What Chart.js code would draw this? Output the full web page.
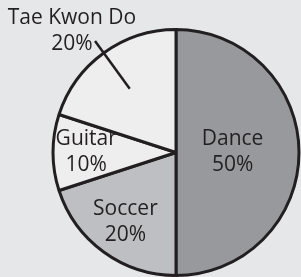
<!DOCTYPE html>
<html lang="en">

<head>
    <meta charset="UTF-8">
    <title>Activities pie chart</title>
    <script src="https://cdn.jsdelivr.net/npm/chart.js"></script>
    <style>
        html, body { margin: 0; padding: 0; background: #e6e7e9; }
        #wrap { width: 301px; height: 277px; }
    </style>
</head>

<body>
    <div id="wrap">
        <canvas id="myPieChart"></canvas>
    </div>

    <script>
        // data
        var categories = ['Dance', 'Soccer', 'Guitar', 'Tae Kwon Do'];
        var percents = [50, 20, 10, 20];
        var sliceColors = ['#98999d', '#bebfc3', '#eeeeef', '#eeeeef'];

        // where each label sits, as a fraction of the radius (TKD goes outside with a leader line)
        var labelRadius = [0.46, 0.70, 0.73, 1.26];
        var labelShiftX = [0, 0, 0, -13];
        var labelShiftY = [0, 0, 0, 4];
        var leaderFrom = [null, null, null, 0.64];
        var leaderTo = [null, null, null, 1.12];

        var ink = '#231f20';

        // draws the two-line labels and the leader line
        var sliceLabels = {
            id: 'sliceLabels',
            afterDatasetsDraw: function (chart) {
                var ctx = chart.ctx;
                var meta = chart.getDatasetMeta(0);
                ctx.save();
                ctx.fillStyle = ink;
                ctx.strokeStyle = ink;
                ctx.font = '21px "Open Sans", sans-serif';
                ctx.textAlign = 'center';
                ctx.textBaseline = 'middle';
                meta.data.forEach(function (arc, i) {
                    var p = arc.getProps(['x', 'y', 'startAngle', 'endAngle', 'outerRadius'], true);
                    var mid = (p.startAngle + p.endAngle) / 2;
                    var cx = Math.cos(mid), cy = Math.sin(mid);
                    var r = p.outerRadius;
                    if (leaderFrom[i] !== null) {
                        ctx.lineWidth = 2.5;
                        ctx.beginPath();
                        ctx.moveTo(p.x + cx * r * leaderFrom[i], p.y + cy * r * leaderFrom[i]);
                        ctx.lineTo(p.x + cx * r * leaderTo[i], p.y + cy * r * leaderTo[i]);
                        ctx.stroke();
                    }
                    var lx = p.x + cx * r * labelRadius[i] + labelShiftX[i];
                    var ly = p.y + cy * r * labelRadius[i] + labelShiftY[i];
                    ctx.fillText(categories[i], lx, ly - 13);
                    ctx.fillText(percents[i] + '%', lx, ly + 13);
                });
                ctx.restore();
            }
        };

        var ctx = document.getElementById('myPieChart').getContext('2d');

        var myPieChart = new Chart(ctx, {
            type: 'pie',
            data: {
                labels: categories,
                datasets: [{
                    data: percents,
                    backgroundColor: sliceColors,
                    borderColor: ink,
                    borderWidth: 3
                }]
            },
            options: {
                responsive: true,
                maintainAspectRatio: false,
                animation: false,
                layout: {
                    padding: { left: 51.5, right: 0.5, top: 28, bottom: 0 }
                },
                plugins: {
                    legend: { display: false },
                    tooltip: { enabled: false }
                }
            },
            plugins: [sliceLabels]
        });
    </script>
</body>

</html>
